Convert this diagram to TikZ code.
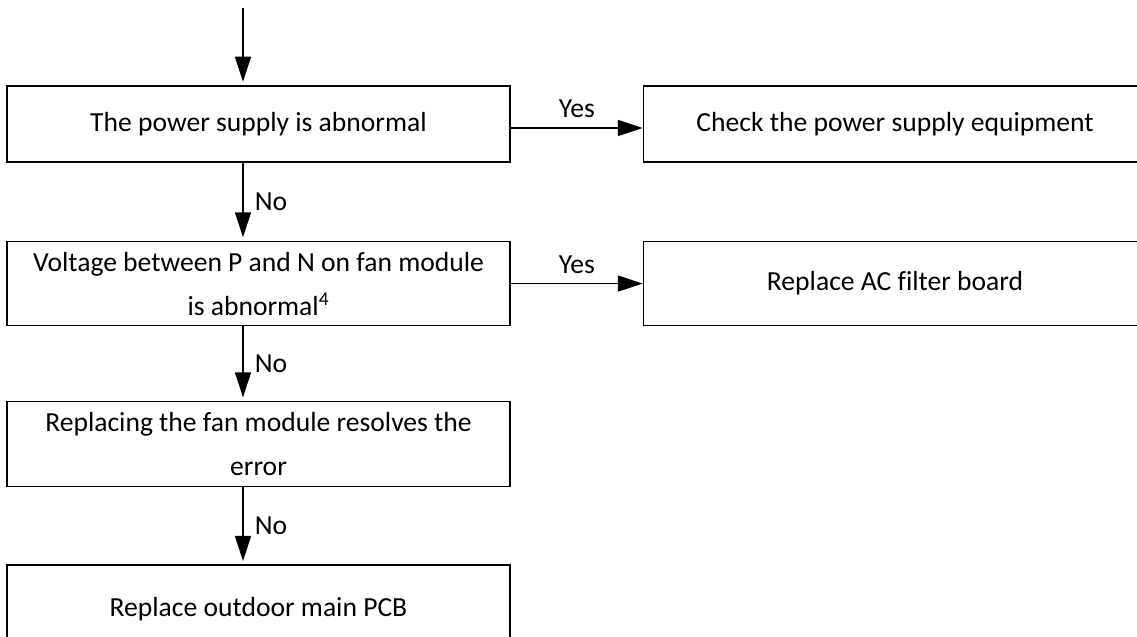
\documentclass[tikz,border=0pt]{standalone}
\usepackage{fontspec}
\setmainfont{Carlito}[Ligatures=NoCommon]
\usetikzlibrary{positioning,calc,arrows.meta}

\begin{document}
\begin{tikzpicture}[every node/.style={font=\fontsize{15.7}{25}\selectfont},
  box/.style={draw=black, line width=0.9pt, minimum width=10.06cm, minimum height=1.52cm,
              align=center, inner sep=2pt},
  arrow/.style={-{Triangle[length=0.5cm,width=0.32cm]}, line width=0.9pt},
  down/.style={arrow, shorten >=0.07cm}]
\useasboundingbox (0,0) rectangle (22.74,-12.74);
\coordinate (start) at (4.86,-0.16);
\node[box] (power) at (5.17,-2.48) {The power supply is abnormal};
\node[box, right=2.64cm of power] (chkpower) {Check the power supply equipment};
\node[box, below=1.56cm of power, minimum height=1.68cm] (voltage)
  {Voltage between P and N on fan module\\is abnormal\textsuperscript{4}};
\node[box, right=2.64cm of voltage, minimum height=1.68cm] (acfilter) {Replace AC filter board};
\node[box, below=1.49cm of voltage, minimum height=1.7cm] (fanmod)
  {Replacing the fan module resolves the\\error};
\node[box, below=1.54cm of fanmod, minimum height=1.76cm] (mainpcb) {Replace outdoor main PCB};
\draw[down] (start) -- (start |- power.north);
\draw[down] (start |- power.south) -- node[right=3pt]{No} (start |- voltage.north);
\draw[down] (start |- voltage.south) -- node[right=3pt]{No} (start |- fanmod.north);
\draw[down] (start |- fanmod.south) -- node[right=3pt]{No} (start |- mainpcb.north);
\draw[arrow] ([yshift=-0.08cm]power.east) -- node[above=2pt]{Yes} ([yshift=-0.08cm]chkpower.west);
\draw[arrow] (voltage.east) -- node[above=2pt]{Yes} (acfilter.west);
\end{tikzpicture}
\end{document}
